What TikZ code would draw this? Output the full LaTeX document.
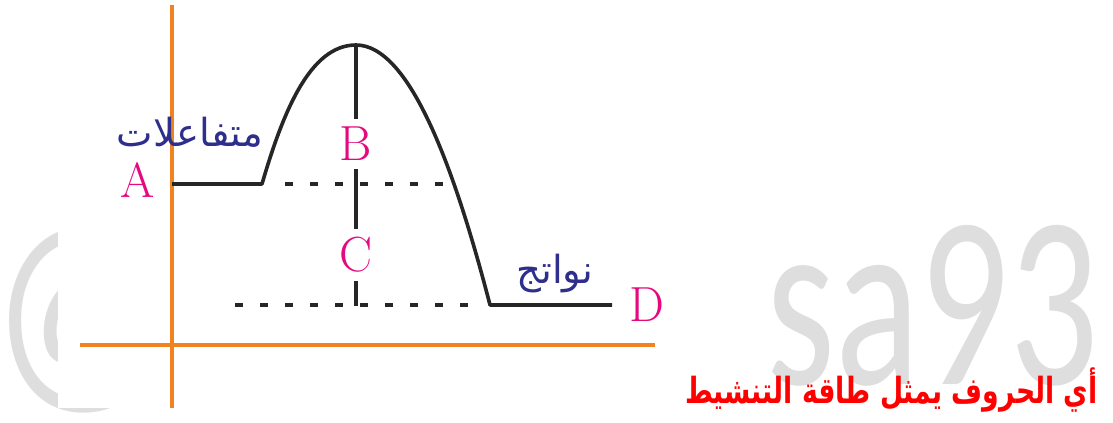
\documentclass[tikz,border=0pt]{standalone}
\usepackage{fontspec}
\usetikzlibrary{positioning}
\TeXXeTstate=1
\newfontfamily\arabicfont[Script=Arabic]{DejaVu Sans}
\newfontfamily\markfont{Carlito}
\definecolor{axisorange}{RGB}{240,130,32}
\definecolor{labelpink}{RGB}{229,9,127}
\definecolor{wordblue}{RGB}{46,46,140}
\definecolor{markgray}{RGB}{222,222,222}

\begin{document}
\begin{tikzpicture}[
    x=0.75pt, y=-0.75pt,
    axis/.style={axisorange, line width=3.2pt},
    level/.style={black!85, line width=2.7pt},
    guide/.style={black!85, line width=2.7pt, dash pattern=on 6pt off 12.75pt},
    letter/.style={labelpink, font=\fontsize{37}{42}\selectfont, inner sep=6pt},
    word/.style={wordblue, font=\arabicfont\fontsize{29}{34}\selectfont},
    watermark/.style={markgray, font=\markfont\fontsize{184}{184}\selectfont,
                 anchor=base west, inner sep=0pt},
]
  \useasboundingbox (0,0) rectangle (1113,423);

  % watermark behind the pasted figure
  \node[watermark] (at) at (-10,386) {\scalebox{0.78}[1]{@}};
  \fill[white] (58,0) rectangle (770,408);
  \node[watermark] (sa) at (766,385) {\scalebox{0.72}[1]{sa93}};

  % axes
  \coordinate (ytop) at (172,5);
  \coordinate (ybot) at (172,408);
  \coordinate (xl) at (80,345);
  \coordinate (xr) at (655,345);
  \draw[axis] (ytop) -- (ybot);
  \draw[axis] (xl) -- (xr);

  % energy path
  \coordinate (react) at (172,184);
  \coordinate (rise) at (262,184);
  \coordinate (peak) at (356,45);
  \coordinate (fall) at (490,305);
  \coordinate (prod) at (612,305);
  \draw[level, line join=round] (react) -- (rise)
      .. controls (283,112) and (310,45) .. (peak)
      .. controls (410,45) and (455,170) .. (fall) -- (prod);

  \coordinate (g1a) at (285,184);
  \coordinate (g1b) at (445,184);
  \coordinate (g2a) at (235,305);
  \coordinate (g2b) at (485,305);
  \draw[guide] (g1a) -- (g1b);
  \draw[guide] (g2a) -- (g2b);

  \node[letter] (B) at (356,144) {B};
  \node[letter] (C) at (356,255) {C};
  \coordinate (base) at (356,306);
  \draw[level] (peak) -- (B);
  \draw[level] (B) -- (C);
  \draw[level] (C) -- (base);

  \node[letter] (A) at (138,180) {A};
  \node[letter] (D) at (647,305) {D};
  \node[word] (reactants) at (190,132) {\beginR متفاعلات\endR};
  \node[word] (products) at (555,274) {\beginR نواتج\endR};

  \node[red, anchor=east, font=\arabicfont\bfseries\fontsize{20}{24}\selectfont] (question)
      at (1102,390) {\scalebox{1}[1.35]{\beginR أي الحروف يمثل طاقة التنشيط\endR}};
\end{tikzpicture}
\end{document}
